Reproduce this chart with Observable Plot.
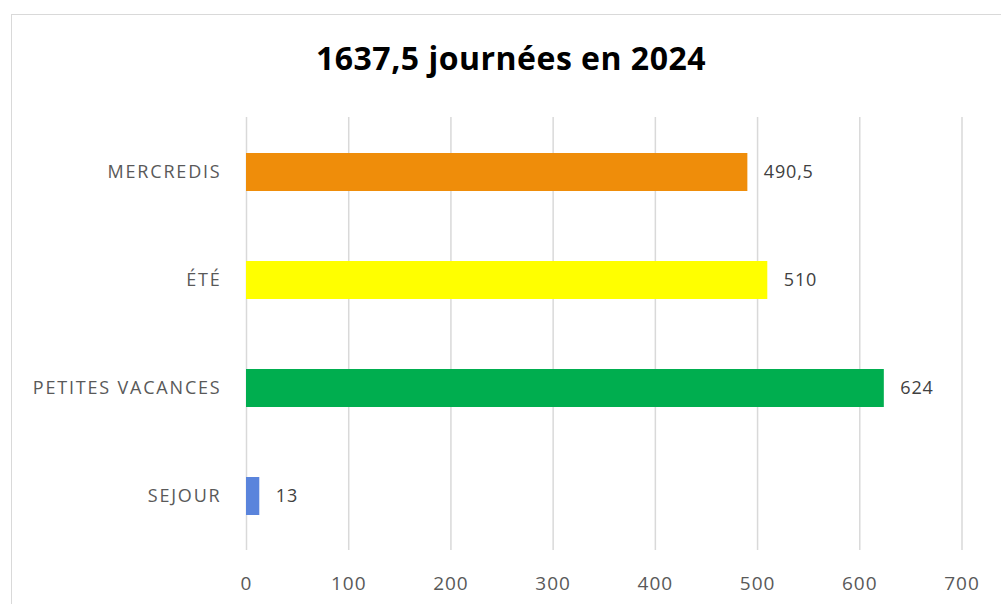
<!DOCTYPE html>
<html>
<head>
<meta charset="utf-8">
<script src="https://cdn.jsdelivr.net/npm/d3@7"></script>
<script src="https://cdn.jsdelivr.net/npm/@observablehq/plot@0.6"></script>
<style>
  html, body { margin: 0; padding: 0; background: #fff; }
  #wrap { position: relative; width: 1001px; height: 604px; overflow: hidden; font-family: "Open Sans", sans-serif; }
  #frame { position: absolute; left: 11px; top: 14px; width: 1100px; height: 700px; border: 1.5px solid #d9d9d9; box-sizing: border-box; }
  #title { position: absolute; left: 0; width: 1022px; top: 36px; text-align: center; font-size: 32px; font-weight: 700; color: #000; letter-spacing: 0.5px; }
  #chart { position: absolute; left: 0; top: 0; }
  .ylab text { letter-spacing: 1.8px; }
  .xlab text { letter-spacing: 1px; }
  .vlab text { letter-spacing: 0.8px; }
</style>
</head>
<body>
<div id="wrap">
  <div id="frame"></div>
  <div id="chart"></div>
  <div id="title">1637,5 journées en 2024</div>
</div>
<script>
const categories = ["MERCREDIS", "ÉTÉ", "PETITES VACANCES", "SEJOUR"];
const values = [490.5, 510, 624, 13];
const colors = ["#EF8D0A", "#FFFF00", "#00AE4F", "#5A84DC"];
const xTicks = [0, 100, 200, 300, 400, 500, 600, 700];

const data = categories.map((c, i) => ({cat: c, value: values[i], color: colors[i]}));
const fmt = v => String(v).replace(".", ",");

const chart = Plot.plot({
  width: 1001,
  height: 604,
  marginLeft: 246,
  marginRight: 39.5,
  marginTop: 117,
  marginBottom: 54,
  style: {background: "transparent", fontFamily: "'Open Sans', sans-serif"},
  x: {domain: [0, 700], ticks: xTicks},
  y: {domain: categories, paddingInner: 0.65, paddingOuter: 0.325},
  marks: [
    Plot.gridX(xTicks, {stroke: "#d9d9d9", strokeOpacity: 1, strokeWidth: 1.5}),
    Plot.barX(data, {y: "cat", x: "value", fill: "color"}),
    Plot.text(data, {y: "cat", x: "value", text: d => fmt(d.value), dx: 16, textAnchor: "start", fill: "#404040", fontSize: 18, className: "vlab"}),
    Plot.axisX(xTicks, {tickSize: 0, tickPadding: 26, fontSize: 19, color: "#595959", label: null, tickFormat: d => String(d), className: "xlab"}),
    Plot.axisY({tickSize: 0, tickPadding: 25, fontSize: 18, color: "#595959", label: null, className: "ylab"})
  ]
});
document.getElementById("chart").appendChild(chart);
</script>
</body>
</html>
